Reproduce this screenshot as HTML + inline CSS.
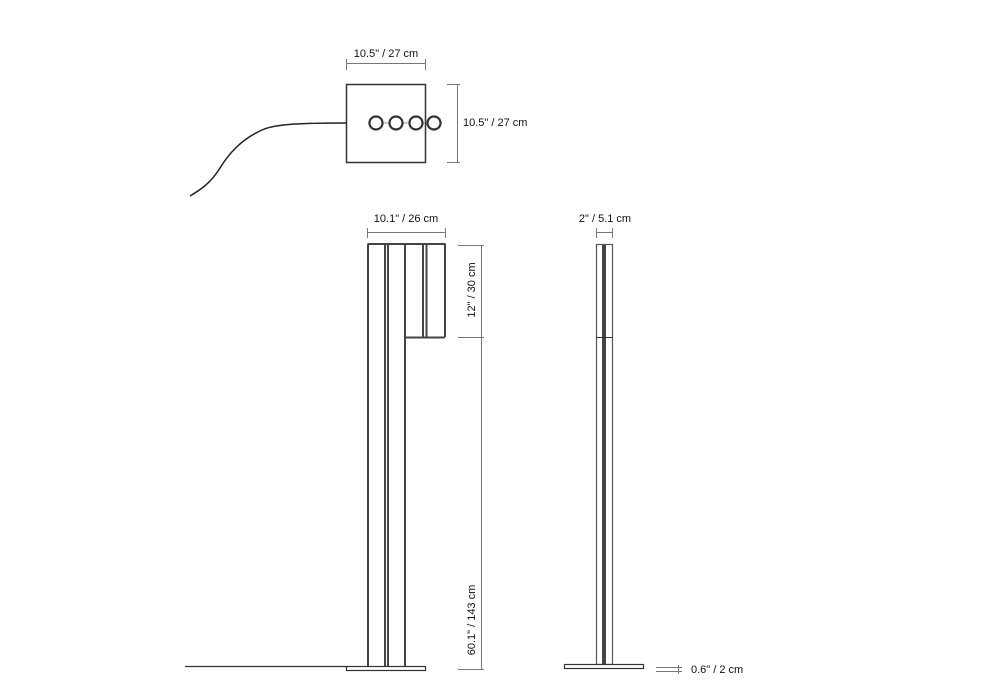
<!DOCTYPE html>
<html><head><style>
html,body{margin:0;padding:0;background:#fff;}
svg{display:block;}
text{font-family:"Liberation Sans",sans-serif;font-size:11px;fill:#111;}
</style></head><body>
<svg width="1000" height="700" viewBox="0 0 1000 700" xmlns="http://www.w3.org/2000/svg">
<!-- top view -->
<text x="386" y="57" text-anchor="middle">10.5" / 27 cm</text>
<g stroke="#777" stroke-width="1" fill="none">
<line x1="346.5" y1="63.5" x2="425.5" y2="63.5"/>
<line x1="346.5" y1="59" x2="346.5" y2="70"/>
<line x1="425.5" y1="59" x2="425.5" y2="70"/>
<line x1="457.5" y1="84" x2="457.5" y2="163"/>
<line x1="447" y1="84.5" x2="460" y2="84.5"/>
<line x1="447" y1="162.5" x2="460" y2="162.5"/>
</g>
<text x="463" y="126">10.5" / 27 cm</text>
<rect x="346.5" y="84.5" width="79" height="78" fill="none" stroke="#333" stroke-width="1.5"/>
<path d="M346 123 C300 123 275 124 262 130 C240 140 228 155 220 168 C210 184 200 190 190 196" fill="none" stroke="#222" stroke-width="1.5"/>
<line x1="368" y1="123" x2="442" y2="123" stroke="#999" stroke-width="1"/>
<g fill="#fff" stroke="#333" stroke-width="2.2">
<circle cx="376" cy="123" r="6.5"/><circle cx="396" cy="123" r="6.5"/><circle cx="416" cy="123" r="6.5"/><circle cx="434" cy="123" r="6.5"/>
</g>
<line x1="425.5" y1="108" x2="425.5" y2="138" stroke="#333" stroke-width="1"/>
<!-- front view -->
<text x="406" y="222" text-anchor="middle">10.1" / 26 cm</text>
<g stroke="#777" stroke-width="1" fill="none">
<line x1="367" y1="232.5" x2="445" y2="232.5"/>
<line x1="367.5" y1="228" x2="367.5" y2="238"/>
<line x1="445.5" y1="228" x2="445.5" y2="238"/>
<line x1="481.5" y1="245" x2="481.5" y2="670"/>
<line x1="458" y1="245.5" x2="484" y2="245.5"/>
<line x1="458" y1="337.5" x2="484" y2="337.5"/>
<line x1="458" y1="669.5" x2="484" y2="669.5"/>
</g>
<text transform="translate(475,290) rotate(-90)" text-anchor="middle">12" / 30 cm</text>
<text transform="translate(475,620) rotate(-90)" text-anchor="middle">60.1" / 143 cm</text>
<g stroke="#444" stroke-width="2" fill="none">
<line x1="367.5" y1="244" x2="445.5" y2="244"/>
<line x1="368" y1="244" x2="368" y2="667"/>
<line x1="385" y1="244" x2="385" y2="667"/>
<line x1="388" y1="244" x2="388" y2="667"/>
<line x1="405" y1="244" x2="405" y2="667"/>
<line x1="423" y1="244" x2="423" y2="337"/>
<line x1="426.5" y1="244" x2="426.5" y2="337"/>
<line x1="445" y1="244" x2="445" y2="337"/>
<line x1="405" y1="337.5" x2="445" y2="337.5"/>
</g>
<line x1="185" y1="666.5" x2="347" y2="666.5" stroke="#333" stroke-width="1.2"/>
<rect x="346.5" y="666.5" width="79" height="4" fill="#fff" stroke="#333" stroke-width="1.2"/>
<!-- side view -->
<text x="605" y="222" text-anchor="middle">2" / 5.1 cm</text>
<g stroke="#777" stroke-width="1" fill="none">
<line x1="596" y1="232.5" x2="613" y2="232.5"/>
<line x1="596.5" y1="228" x2="596.5" y2="238"/>
<line x1="612.5" y1="228" x2="612.5" y2="238"/>
</g>
<rect x="596.5" y="244.5" width="16" height="420" fill="none" stroke="#555" stroke-width="1.2"/>
<rect x="602" y="245" width="4" height="419" fill="#444"/>
<line x1="596" y1="337.5" x2="613" y2="337.5" stroke="#333" stroke-width="1"/>
<rect x="564.5" y="664.5" width="79" height="4" fill="#fff" stroke="#333" stroke-width="1.2"/>
<g stroke="#777" stroke-width="1">
<line x1="656" y1="667.5" x2="682" y2="667.5"/>
<line x1="656" y1="671.5" x2="682" y2="671.5"/>
<line x1="678.5" y1="665" x2="678.5" y2="674"/>
</g>
<text x="691" y="673">0.6" / 2 cm</text>
</svg>
</body></html>
